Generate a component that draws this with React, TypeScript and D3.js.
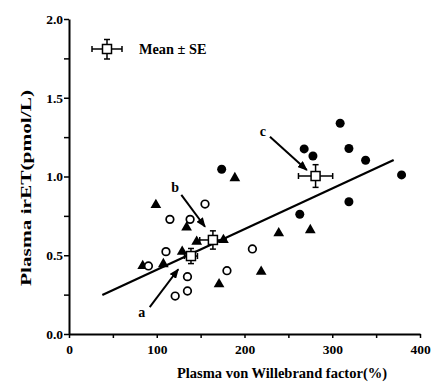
import React, { useEffect, useRef } from "react";
import * as d3 from "d3";

// group 1: filled circles
const filledX = [174, 268, 278, 309, 319, 338, 379, 319, 263];
const filledY = [1.046, 1.175, 1.13, 1.338, 1.178, 1.103, 1.01, 0.84, 0.76];
// group 2: filled triangles
const triX = [189, 239, 275, 219, 171, 99, 134, 145.5, 176, 129, 84, 107.5];
const triY = [0.99, 0.64, 0.66, 0.396, 0.316, 0.82, 0.677, 0.586, 0.597, 0.523, 0.432, 0.444];
// group 3: open circles
const openX = [155, 115, 138, 110.5, 90.5, 135, 135, 121, 180, 209];
const openY = [0.825, 0.728, 0.728, 0.523, 0.432, 0.364, 0.273, 0.241, 0.402, 0.54];

// group means with SE
const meanLabels = ["a", "b", "c"];
const meanX = [139, 164, 281];
const meanY = [0.495, 0.597, 1.003];
const meanXErr = [7.4, 15, 19.5];
const meanYErr = [0.048, 0.058, 0.072];
// arrow annotations (label position, arrow tail, arrow tip)
const labelX = [83, 121, 221];
const labelY = [0.142, 0.935, 1.291];
const tailX = [92, 128, 229];
const tailY = [0.17, 0.883, 1.253];
const tipX = [124.5, 155, 271];
const tipY = [0.411, 0.681, 1.041];

// regression line
const regX = [38, 370];
const regY = [0.248, 1.105];

const xTicks = [0, 50, 100, 150, 200, 250, 300, 350, 400];
const yTicks = [0, 0.25, 0.5, 0.75, 1, 1.25, 1.5, 1.75, 2];

const W = 431;
const H = 383;
const FONT = "'Liberation Serif', 'Times New Roman', serif";

export default function App() {
  const ref = useRef<SVGSVGElement>(null);

  useEffect(() => {
    const svg = d3.select(ref.current);
    svg.selectAll("*").remove();

    const x = d3.scaleLinear().domain([0, 400]).range([69, 420]);
    const y = d3.scaleLinear().domain([0, 2]).range([334, 19]);

    svg
      .append("defs")
      .append("marker")
      .attr("id", "arrowhead")
      .attr("viewBox", "0 0 10 8")
      .attr("refX", 9)
      .attr("refY", 4)
      .attr("markerWidth", 10)
      .attr("markerHeight", 8)
      .attr("markerUnits", "userSpaceOnUse")
      .attr("orient", "auto")
      .append("path")
      .attr("d", "M0,0 L10,4 L0,8 Z")
      .attr("fill", "#000");

    // axes
    const xAxis = svg
      .append("g")
      .attr("transform", "translate(0," + y(0) + ")")
      .call(
        d3
          .axisBottom(x)
          .tickValues(xTicks)
          .tickSize(4)
          .tickSizeOuter(0)
          .tickFormat(d => (+d % 100 === 0 ? d3.format("d")(d as number) : ""))
      );
    xAxis.select(".domain").attr("stroke-width", 2);
    xAxis.selectAll(".tick line").attr("stroke-width", 1.5);
    xAxis
      .selectAll(".tick text")
      .attr("font-family", FONT)
      .attr("font-weight", "bold")
      .attr("font-size", "13.5px")
      .attr("fill", "#000")
      .attr("dy", "0.95em");

    const yAxis = svg
      .append("g")
      .attr("transform", "translate(" + x(0) + ",0)")
      .call(
        d3
          .axisLeft(y)
          .tickValues(yTicks)
          .tickSize(5)
          .tickSizeOuter(0)
          .tickFormat(d => (Math.round(+d * 100) % 50 === 0 ? d3.format(".1f")(d as number) : ""))
      );
    yAxis.select(".domain").attr("stroke-width", 2);
    yAxis.selectAll(".tick line").attr("stroke-width", 1.5);
    yAxis
      .selectAll(".tick text")
      .attr("font-family", FONT)
      .attr("font-weight", "bold")
      .attr("font-size", "13.5px")
      .attr("fill", "#000")
      .attr("x", -6);

    // axis titles
    svg
      .append("text")
      .attr("x", 282)
      .attr("y", 378)
      .attr("text-anchor", "middle")
      .attr("font-family", FONT)
      .attr("font-weight", "bold")
      .attr("font-size", "14.5px")
      .text("Plasma von Willebrand factor(%)");

    svg
      .append("text")
      .attr("transform", "translate(31,188) rotate(-90)")
      .attr("text-anchor", "middle")
      .attr("font-family", FONT)
      .attr("font-weight", "bold")
      .attr("font-size", "14.5px")
      .attr("textLength", 196)
      .attr("lengthAdjust", "spacingAndGlyphs")
      .text("Plasma irET(pmol/L)");

    // regression line
    const line = d3
      .line<number>()
      .x(d => x(regX[d]))
      .y(d => y(regY[d]));
    svg
      .append("path")
      .datum(d3.range(regX.length))
      .attr("fill", "none")
      .attr("stroke", "#000")
      .attr("stroke-width", 2.2)
      .attr("d", line);

    // filled circles
    svg
      .append("g")
      .selectAll("circle")
      .data(d3.range(filledX.length))
      .enter()
      .append("circle")
      .attr("cx", i => x(filledX[i]))
      .attr("cy", i => y(filledY[i]))
      .attr("r", 4.5)
      .attr("fill", "#000");

    // triangles
    const tri = d3.symbol().type(d3.symbolTriangle).size(50);
    svg
      .append("g")
      .selectAll("path")
      .data(d3.range(triX.length))
      .enter()
      .append("path")
      .attr("d", tri)
      .attr("transform", i => "translate(" + x(triX[i]) + "," + y(triY[i]) + ")")
      .attr("fill", "#000");

    // open circles
    svg
      .append("g")
      .selectAll("circle")
      .data(d3.range(openX.length))
      .enter()
      .append("circle")
      .attr("cx", i => x(openX[i]))
      .attr("cy", i => y(openY[i]))
      .attr("r", 3.8)
      .attr("fill", "#fff")
      .attr("stroke", "#000")
      .attr("stroke-width", 1.7);

    // mean +- SE markers
    const drawMean = (g, cx, cy, x0, x1, y0, y1) => {
      const cap = 3;
      g.append("line").attr("x1", x0).attr("x2", x1).attr("y1", cy).attr("y2", cy);
      g.append("line").attr("x1", cx).attr("x2", cx).attr("y1", y0).attr("y2", y1);
      g.append("line").attr("x1", x0).attr("x2", x0).attr("y1", cy - cap).attr("y2", cy + cap);
      g.append("line").attr("x1", x1).attr("x2", x1).attr("y1", cy - cap).attr("y2", cy + cap);
      g.append("line").attr("x1", cx - cap).attr("x2", cx + cap).attr("y1", y0).attr("y2", y0);
      g.append("line").attr("x1", cx - cap).attr("x2", cx + cap).attr("y1", y1).attr("y2", y1);
      g.selectAll("line").attr("stroke", "#000").attr("stroke-width", 1.5);
      g.append("rect")
        .attr("x", cx - 4.5)
        .attr("y", cy - 4.5)
        .attr("width", 9)
        .attr("height", 9)
        .attr("fill", "#fff")
        .attr("stroke", "#000")
        .attr("stroke-width", 1.5);
    };

    meanLabels.forEach((lab, i) => {
      const g = svg.append("g");
      drawMean(
        g,
        x(meanX[i]),
        y(meanY[i]),
        x(meanX[i] - meanXErr[i]),
        x(meanX[i] + meanXErr[i]),
        y(meanY[i] + meanYErr[i]),
        y(meanY[i] - meanYErr[i])
      );
      svg
        .append("line")
        .attr("x1", x(tailX[i]))
        .attr("y1", y(tailY[i]))
        .attr("x2", x(tipX[i]))
        .attr("y2", y(tipY[i]))
        .attr("stroke", "#000")
        .attr("stroke-width", 2)
        .attr("marker-end", "url(#arrowhead)");
      svg
        .append("text")
        .attr("x", x(labelX[i]))
        .attr("y", y(labelY[i]))
        .attr("dy", "0.35em")
        .attr("text-anchor", "middle")
        .attr("font-family", FONT)
        .attr("font-weight", "bold")
        .attr("font-size", "14px")
        .text(lab);
    });

    // legend
    const lg = svg.append("g");
    drawMean(lg, 107, 49, 92, 122, 39.5, 59);
    svg
      .append("text")
      .attr("x", 139)
      .attr("y", 54)
      .attr("font-family", FONT)
      .attr("font-weight", "bold")
      .attr("font-size", "14.3px")
      .text("Mean \u00b1 SE");
  }, []);

  return (
    <div style={{ position: "absolute", left: 0, top: 0, width: W, height: H, background: "#fff" }}>
      <svg ref={ref} width={W} height={H} />
    </div>
  );
}
